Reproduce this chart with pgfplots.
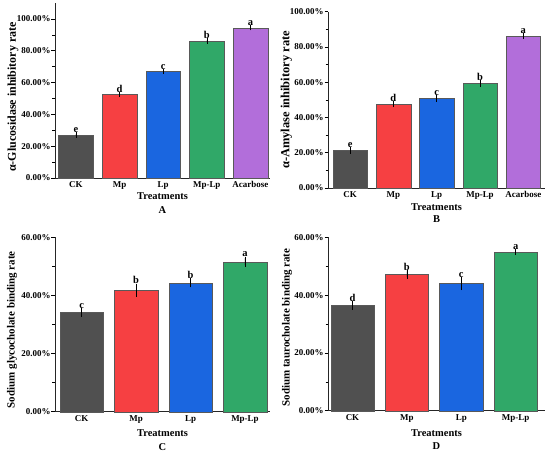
\documentclass[border=0pt]{standalone}
\usepackage{fontspec}
\setmainfont{Liberation Serif}
\usepackage{pgfplots}
\pgfplotsset{compat=1.18}
\definecolor{cCK}{RGB}{80,80,80}
\definecolor{cMp}{RGB}{246,64,66}
\definecolor{cLp}{RGB}{26,102,224}
\definecolor{cMpLp}{RGB}{48,168,104}
\definecolor{cAc}{RGB}{178,110,218}
\pgfplotsset{
  panel/.style={
    scale only axis, axis lines*=left, ymin=0, clip=false,
    xtick style={draw=none},
    ytick align=outside,
    minor y tick num=1,
    major tick length=3.5bp, minor tick length=2.5bp,
    every tick/.style={black, line width=0.6pt},
    every minor tick/.style={black, line width=0.6pt, yshift=0pt},
    axis line style={line width=0.8pt, black!85},
    tick label style={font=\fontsize{9}{10}\selectfont\bfseries},
    yticklabel style={xshift=2.5bp},
    label style={font=\fontsize{10.5}{12}\selectfont\bfseries},
    /pgf/number format/assume math mode=true,
    yticklabel={\pgfmathprintnumber[fixed,fixed zerofill,precision=2]{\tick}\%},
  },
  mybar/.style={ybar, bar width=0.8, bar shift=0pt, draw=black!65, line width=0.4pt,
    error bars/y dir=both, error bars/y explicit,
    error bars/error bar style={black, line width=0.5pt},
    error bars/error mark options={black, line width=0.5pt, mark size=1.6pt}},
  letters/.style={only marks, mark=none, nodes near coords, point meta=explicit symbolic,
    every node near coord/.append style={anchor=south, inner sep=1pt, font=\fontsize{10.5}{12}\selectfont\bfseries, black}},
}
\begin{document}
\begin{tikzpicture}
\useasboundingbox (0,0) rectangle (550bp,455bp);
% Panel A
\begin{axis}[panel, at={(55bp,277bp)}, anchor=south west, width=215bp, height=175bp,
  xmin=-0.48, xmax=4.45, ymax=110, ytick={0,20,...,100},
  xtick={0,1,2,3,4}, xticklabels={CK,Mp,Lp,Mp-Lp,Acarbose},
  ylabel={α-Glucosidase inhibitory rate},
  ylabel style={at={(axis description cs:-0.195,0.463)}, anchor=center, font=\fontsize{12}{13}\selectfont\bfseries},
  xlabel={Treatments}, xlabel style={at={(axis description cs:0.5,0)}, anchor=base, yshift=-22bp}]
\addplot[mybar, fill=cCK] coordinates {(0,27.0) +- (0,0.6)};
\addplot[mybar, fill=cMp] coordinates {(1,52.6) +- (0,0.6)};
\addplot[mybar, fill=cLp] coordinates {(2,66.9) +- (0,0.5)};
\addplot[mybar, fill=cMpLp] coordinates {(3,86.0) +- (0,0.7)};
\addplot[mybar, fill=cAc] coordinates {(4,94.4) +- (0,0.6)};
\addplot[letters] coordinates {(0,27.6)[e] (1,53.2)[d] (2,67.4)[c] (3,86.7)[b] (4,95.0)[a]};
\node[anchor=base, font=\fontsize{10.5}{12}\selectfont\bfseries] at (axis description cs:0.5,0) [yshift=-36bp] {A};
\end{axis}
% Panel B
\begin{axis}[panel, at={(328bp,267bp)}, anchor=south west, width=217bp, height=176.3bp,
  xmin=-0.51, xmax=4.5, ymax=100, ytick={0,20,...,100},
  xtick={0,1,2,3,4}, xticklabels={CK,Mp,Lp,Mp-Lp,Acarbose},
  ylabel={α-Amylase inhibitory rate},
  ylabel style={at={(axis description cs:-0.192,0.5)}, anchor=center, font=\fontsize{12.5}{13}\selectfont\bfseries},
  xlabel={Treatments}, xlabel style={at={(axis description cs:0.5,0)}, anchor=base, yshift=-23bp}]
\addplot[mybar, fill=cCK] coordinates {(0,21.2) +- (0,1.0)};
\addplot[mybar, fill=cMp] coordinates {(1,47.6) +- (0,0.8)};
\addplot[mybar, fill=cLp] coordinates {(2,50.7) +- (0,1.0)};
\addplot[mybar, fill=cMpLp] coordinates {(3,59.4) +- (0,1.0)};
\addplot[mybar, fill=cAc] coordinates {(4,86.2) +- (0,0.8)};
\addplot[letters] coordinates {(0,22.2)[e] (1,48.4)[d] (2,51.7)[c] (3,60.4)[b] (4,87.0)[a]};
\node[anchor=base, font=\fontsize{10.5}{12}\selectfont\bfseries] at (axis description cs:0.5,0) [yshift=-35bp] {B};
\end{axis}
% Panel C
\begin{axis}[panel, at={(55bp,43.3bp)}, anchor=south west, width=215bp, height=174.4bp,
  xmin=-0.49, xmax=3.46, ymax=60, ytick={0,20,40,60},
  xtick={0,1,2,3}, xticklabels={CK,Mp,Lp,Mp-Lp},
  ylabel={Sodium glycocholate binding rate},
  ylabel style={at={(axis description cs:-0.2,0.47)}, anchor=center, font=\fontsize{11}{12}\selectfont\bfseries},
  xlabel={Treatments}, xlabel style={at={(axis description cs:0.5,0)}, anchor=base, yshift=-24.5bp}]
\addplot[mybar, fill=cCK] coordinates {(0,34.2) +- (0,1.0)};
\addplot[mybar, fill=cMp] coordinates {(1,41.8) +- (0,1.7)};
\addplot[mybar, fill=cLp] coordinates {(2,44.3) +- (0,1.0)};
\addplot[mybar, fill=cMpLp] coordinates {(3,51.6) +- (0,1.2)};
\addplot[letters] coordinates {(0,35.2)[c] (1,43.5)[b] (2,45.3)[b] (3,52.8)[a]};
\node[anchor=base, font=\fontsize{10.5}{12}\selectfont\bfseries] at (axis description cs:0.5,0) [yshift=-38.5bp] {C};
\end{axis}
% Panel D
\begin{axis}[panel, at={(328bp,44.3bp)}, anchor=south west, width=217bp, height=173.4bp,
  xmin=-0.45, xmax=3.54, ymax=60, ytick={0,20,40,60},
  xtick={0,1,2,3}, xticklabels={CK,Mp,Lp,Mp-Lp},
  ylabel={Sodium taurocholate binding rate},
  ylabel style={at={(axis description cs:-0.189,0.48)}, anchor=center, font=\fontsize{11}{12}\selectfont\bfseries},
  xlabel={Treatments}, xlabel style={at={(axis description cs:0.5,0)}, anchor=base, yshift=-25.5bp}]
\addplot[mybar, fill=cCK] coordinates {(0,36.5) +- (0,1.0)};
\addplot[mybar, fill=cMp] coordinates {(1,47.2) +- (0,1.0)};
\addplot[mybar, fill=cLp] coordinates {(2,44.0) +- (0,1.7)};
\addplot[mybar, fill=cMpLp] coordinates {(3,55.0) +- (0,0.5)};
\addplot[letters] coordinates {(0,37.5)[d] (1,48.2)[b] (2,45.7)[c] (3,55.5)[a]};
\node[anchor=base, font=\fontsize{10.5}{12}\selectfont\bfseries] at (axis description cs:0.5,0) [yshift=-39bp] {D};
\end{axis}
\end{tikzpicture}
\end{document}
